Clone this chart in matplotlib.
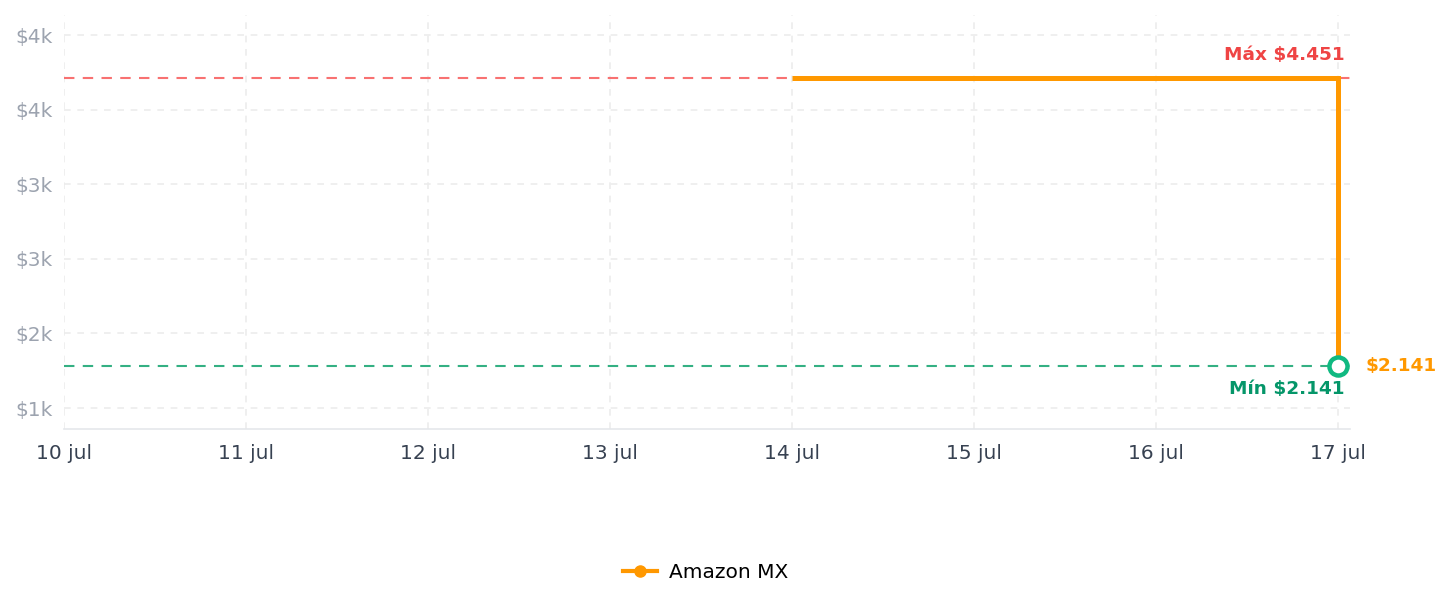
import numpy as np
import pandas as pd
from matplotlib import pyplot as plt
from matplotlib.lines import Line2D
import matplotlib.dates as mdates

# price history (Amazon MX)
dates = pd.to_datetime(['2024-07-14', '2024-07-17'])
prices = [4451, 2141]
series_name = 'Amazon MX'

price_max = 4451
price_min = 2141
price_last = 2141

tick_dates = pd.date_range('2024-07-10', '2024-07-17', freq='D')
tick_labels = ['10 jul', '11 jul', '12 jul', '13 jul', '14 jul', '15 jul', '16 jul', '17 jul']
y_ticks = [1800, 2400, 3000, 3600, 4200, 4800]
y_labels = ['$1k', '$2k', '$3k', '$3k', '$4k', '$4k']

orange = '#ff9800'
red = '#ef4444'
green = '#059669'

def money(v):
    return '$' + f'{v:,}'.replace(',', '.')

fig = plt.figure(figsize=(14.52, 6.07), dpi=100)
ax = fig.add_axes([0.0441, 0.2932, 0.8857, 0.6821])

ax.axhline(price_max, color='#f87171', lw=1.5, ls=(0, (5, 4)), zorder=2)
ax.axhline(price_min, color='#34b083', lw=1.5, ls=(0, (5, 4)), zorder=2)

ax.plot(dates, prices, drawstyle='steps-post', color=orange, lw=3.6,
        solid_capstyle='butt', solid_joinstyle='miter', zorder=3)
ax.plot(dates[-1:], prices[-1:], 'o', ms=13, mfc='white', mec='#10b981',
        mew=3.2, zorder=4)

ax.set_xlim(pd.Timestamp('2024-07-10'), pd.Timestamp('2024-07-17') + pd.Timedelta(hours=1.6))
ax.set_ylim(1631, 4961)
ax.set_xticks(tick_dates)
ax.set_xticklabels(tick_labels)
ax.set_yticks(y_ticks)
ax.set_yticklabels(y_labels)

ax.tick_params(axis='x', length=0, pad=11, labelsize=14.5, labelcolor='#374151')
ax.tick_params(axis='y', length=0, pad=8, labelsize=14.5, labelcolor='#9ca3af')
ax.grid(True, color='#ececec', ls=(0, (4, 4)), lw=1.2)
ax.set_axisbelow(True)
for s in ['top', 'right', 'left']:
    ax.spines[s].set_visible(False)
ax.spines['bottom'].set_color('#e5e7eb')
ax.spines['bottom'].set_linewidth(1.2)

ax.annotate('Máx ' + money(price_max), xy=(mdates.date2num(dates[-1]), price_max),
            xytext=(5, 17), textcoords='offset points', ha='right', va='center',
            color=red, fontsize=13.3, fontweight='bold')
ax.annotate('Mín ' + money(price_min), xy=(mdates.date2num(dates[-1]), price_min),
            xytext=(5, -17), textcoords='offset points', ha='right', va='center',
            color=green, fontsize=13.3, fontweight='bold')
ax.annotate(money(price_last), xy=(mdates.date2num(dates[-1]), price_last),
            xytext=(20, 0), textcoords='offset points', ha='left', va='center',
            color=orange, fontsize=13.3, fontweight='bold', annotation_clip=False)

handle = Line2D([], [], color=orange, lw=3, marker='o', ms=8)
fig.legend([handle], [series_name], loc='center', bbox_to_anchor=(0.486, 0.057),
           frameon=False, fontsize=14.5, handlelength=1.7, handletextpad=0.6)

plt.savefig('out.png', dpi=100)
